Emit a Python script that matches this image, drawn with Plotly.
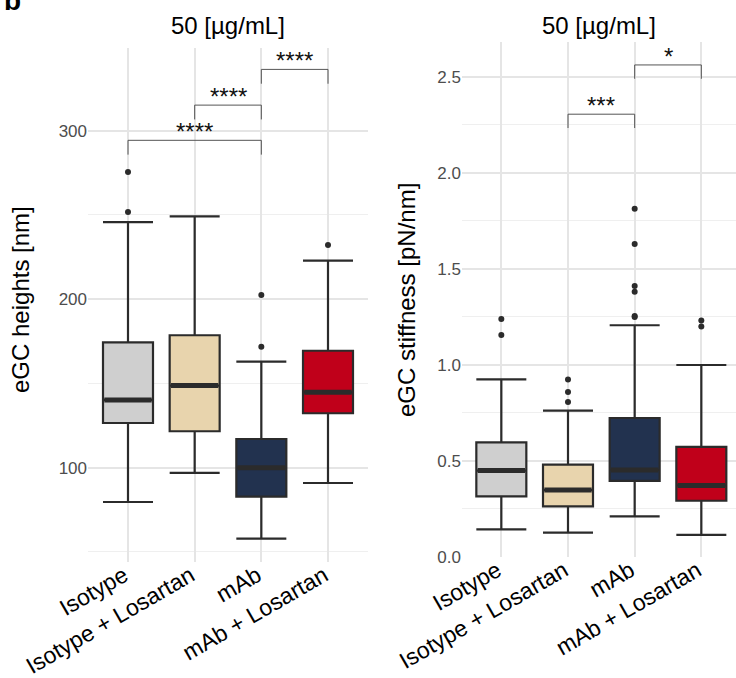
import plotly.graph_objects as go

categories = ["Isotype", "Isotype + Losartan", "mAb", "mAb + Losartan"]
colors = ["#CFCFCF", "#E8D4AD", "#22324F", "#C0001A"]

# Panel 1: eGC heights [nm]
height_q1 = [126.5, 121.6, 82.8, 132.3]
height_median = [140.2, 148.7, 100.0, 144.7]
height_q3 = [174.4, 178.6, 117.0, 169.4]
height_lower = [79.6, 96.9, 57.9, 90.9]
height_upper = [245.8, 249.2, 162.9, 222.9]
height_outliers = [[275.5, 251.7], [], [202.5, 171.8], [232.2]]
height_brackets = [(0, 2, 294.3, "****"), (1, 2, 315.2, "****"), (2, 3, 336.4, "****")]
height_tip = 8.5

# Panel 2: eGC stiffness [pN/nm]
stiff_q1 = [0.316, 0.264, 0.396, 0.293]
stiff_median = [0.45, 0.349, 0.453, 0.373]
stiff_q3 = [0.597, 0.481, 0.724, 0.573]
stiff_lower = [0.144, 0.127, 0.212, 0.115]
stiff_upper = [0.925, 0.762, 1.207, 1.0]
stiff_outliers = [[1.24, 1.156], [0.925, 0.859, 0.807],
                  [1.814, 1.63, 1.411, 1.382, 1.255, 1.25], [1.231, 1.2]]
stiff_brackets = [(1, 2, 2.306, "***"), (2, 3, 2.5625, "*")]
stiff_tip = 0.072

LINE = "#2B2B2B"
BOXW = 0.75
FONT = "Liberation Sans, Arial, sans-serif"

fig = go.Figure()


def add_panel(q1, med, q3, lo, hi, outl, brackets, tip, xa, ya):
    xref = "x" if xa == "" else "x" + xa
    yref = "y" if ya == "" else "y" + ya
    for i, cat in enumerate(categories):
        fig.add_trace(go.Box(
            x=[i], q1=[q1[i]], median=[med[i]], q3=[q3[i]],
            lowerfence=[lo[i]], upperfence=[hi[i]],
            width=BOXW, whiskerwidth=1, fillcolor=colors[i],
            line=dict(color=LINE, width=2.2), boxpoints=False,
            xaxis=xref, yaxis=yref, showlegend=False, name=cat))
        fig.add_trace(go.Scatter(
            x=[i - BOXW / 2 + 0.02, i + BOXW / 2 - 0.02], y=[med[i], med[i]],
            mode="lines", line=dict(color=LINE, width=5),
            xaxis=xref, yaxis=yref, showlegend=False, hoverinfo="skip"))
        if outl[i]:
            fig.add_trace(go.Scatter(
                x=[i] * len(outl[i]), y=outl[i], mode="markers",
                marker=dict(color=LINE, size=6),
                xaxis=xref, yaxis=yref, showlegend=False))
    for a, b, yv, lab in brackets:
        fig.add_trace(go.Scatter(
            x=[a, a, b, b], y=[yv - tip, yv, yv, yv - tip], mode="lines",
            line=dict(color="#555555", width=1),
            xaxis=xref, yaxis=yref, showlegend=False, hoverinfo="skip"))
        fig.add_annotation(x=(a + b) / 2, y=yv, xref=xref, yref=yref,
                           text=lab, showarrow=False, yanchor="bottom", xanchor="center",
                           yshift=-7, font=dict(family=FONT, size=24, color="#111111"))


add_panel(height_q1, height_median, height_q3, height_lower, height_upper,
          height_outliers, height_brackets, height_tip, "", "")
add_panel(stiff_q1, stiff_median, stiff_q3, stiff_lower, stiff_upper,
          stiff_outliers, stiff_brackets, stiff_tip, "2", "2")

W, H = 736, 678
grid_major = "#E5E5E5"
grid_minor = "#EFEFEF"

xcommon = dict(tickmode="array", tickvals=list(range(4)), ticktext=categories,
               tickangle=-30, tickfont=dict(family=FONT, size=23, color="#000000"),
               ticklabelstandoff=-5, ticklabelshift=-4,
               showgrid=True, gridcolor=grid_major, gridwidth=1.5,
               zeroline=False, showline=False, ticks="", automargin=False)
ycommon = dict(tickfont=dict(family=FONT, size=17, color="#4D4D4D"),
               showgrid=True, gridcolor=grid_major, gridwidth=1.5,
               zeroline=False, showline=False, ticks="", automargin=False)

fig.update_layout(
    width=W, height=H, margin=dict(l=0, r=0, t=0, b=0),
    paper_bgcolor="white", plot_bgcolor="white", boxmode="overlay",
    font=dict(family=FONT),
    xaxis=dict(domain=[88 / W, 368 / W], range=[-0.6, 3.6], anchor="y", **xcommon),
    yaxis=dict(domain=[(H - 562) / H, (H - 48) / H], range=[44.0, 349.1],
               tickvals=[100, 200, 300], anchor="x",
               minor=dict(dtick=50, tick0=0, showgrid=True, gridcolor=grid_minor, gridwidth=1),
               **ycommon),
    xaxis2=dict(domain=[462 / W, 1.0], range=[-0.59, 3.52], anchor="y2", **xcommon),
    yaxis2=dict(domain=[(H - 557) / H, (H - 42) / H], range=[0.0, 2.682],
                tickvals=[0.0, 0.5, 1.0, 1.5, 2.0, 2.5],
                ticktext=["0.0", "0.5", "1.0", "1.5", "2.0", "2.5"], anchor="x2",
                minor=dict(dtick=0.25, tick0=0, showgrid=True, gridcolor=grid_minor, gridwidth=1),
                **ycommon),
)

# panel titles
for xc in [(88 + 368) / 2 / W, (462 + 736) / 2 / W]:
    fig.add_annotation(x=xc, y=1 - 25 / H, xref="paper", yref="paper",
                       text="50 [µg/mL]", showarrow=False, xanchor="center", yanchor="middle",
                       font=dict(family=FONT, size=24, color="#000000"))

# y-axis titles
fig.add_annotation(x=20 / W, y=1 - 300 / H, xref="paper", yref="paper",
                   text="eGC heights [nm]", showarrow=False, textangle=-90,
                   xanchor="center", yanchor="middle",
                   font=dict(family=FONT, size=24, color="#000000"))
fig.add_annotation(x=406 / W, y=1 - 300 / H, xref="paper", yref="paper",
                   text="eGC stiffness [pN/nm]", showarrow=False, textangle=-90,
                   xanchor="center", yanchor="middle",
                   font=dict(family=FONT, size=24, color="#000000"))

# panel label (mostly cut off at the top edge, as in the reference)
fig.add_annotation(x=2 / W, y=1 - 18 / H, xref="paper", yref="paper",
                   text="<b>b</b>", showarrow=False, xanchor="left", yanchor="bottom",
                   font=dict(family=FONT, size=28, color="#000000"))

fig.write_html("out.html", config={"displayModeBar": False},
               post_script="document.body.style.margin='0px';document.body.style.overflow='hidden';")
